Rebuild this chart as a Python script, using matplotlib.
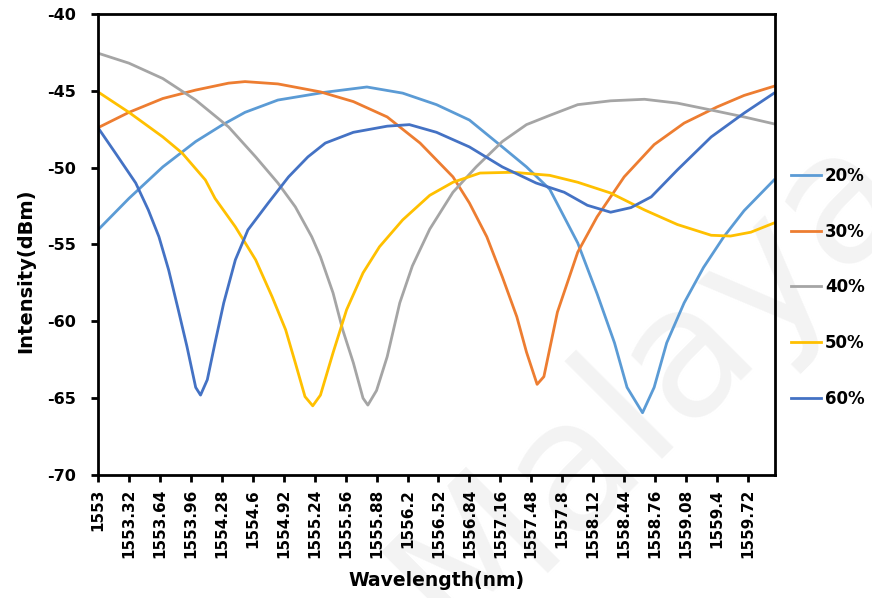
import matplotlib
matplotlib.use("Agg")
import matplotlib.pyplot as plt

# transmission spectra for each coupling ratio
wl_20 = [1553.00, 1553.32, 1553.67, 1554.01, 1554.29, 1554.52, 1554.86, 1555.34, 1555.78,
         1556.15, 1556.50, 1556.84, 1557.18, 1557.43, 1557.67, 1557.96, 1558.16, 1558.34,
         1558.47, 1558.63, 1558.75, 1558.88, 1559.06, 1559.26, 1559.47, 1559.68, 1559.99]
db_20 = [-54.05, -52.0, -49.95, -48.3, -47.2, -46.4, -45.6, -45.1, -44.75,
         -45.15, -45.9, -46.9, -48.65, -49.95, -51.4, -54.9, -58.2, -61.4,
         -64.3, -65.95, -64.3, -61.4, -58.8, -56.5, -54.5, -52.8, -50.8]

wl_30 = [1553.00, 1553.32, 1553.67, 1554.01, 1554.35, 1554.52, 1554.86, 1555.30, 1555.64,
         1555.99, 1556.33, 1556.67, 1556.84, 1557.02, 1557.18, 1557.33, 1557.43, 1557.54,
         1557.61, 1557.75, 1557.96, 1558.16, 1558.44, 1558.75, 1559.06, 1559.40, 1559.68,
         1559.99]
db_30 = [-47.4, -46.4, -45.5, -44.95, -44.5, -44.4, -44.55, -45.07, -45.7,
         -46.7, -48.4, -50.6, -52.3, -54.5, -57.1, -59.7, -62.0, -64.1,
         -63.6, -59.4, -55.5, -53.2, -50.6, -48.5, -47.1, -46.05, -45.3,
         -44.7]

wl_40 = [1553.00, 1553.32, 1553.67, 1554.01, 1554.35, 1554.63, 1554.86, 1555.04, 1555.21,
         1555.30, 1555.43, 1555.53, 1555.64, 1555.74, 1555.79, 1555.88, 1555.99, 1556.12,
         1556.25, 1556.43, 1556.67, 1556.91, 1557.18, 1557.43, 1557.67, 1557.96, 1558.30,
         1558.65, 1558.99, 1559.34, 1559.68, 1559.99]
db_40 = [-42.55, -43.2, -44.2, -45.6, -47.35, -49.3, -51.0, -52.55, -54.5,
         -55.8, -58.15, -60.55, -62.7, -65.0, -65.45, -64.5, -62.3, -58.8,
         -56.4, -54.0, -51.6, -49.95, -48.3, -47.2, -46.6, -45.9, -45.65,
         -45.55, -45.8, -46.25, -46.7, -47.15]

wl_50 = [1553.00, 1553.32, 1553.67, 1553.87, 1554.11, 1554.21, 1554.42, 1554.63, 1554.80,
         1554.94, 1555.04, 1555.14, 1555.22, 1555.30, 1555.43, 1555.57, 1555.74, 1555.91,
         1556.15, 1556.43, 1556.67, 1556.95, 1557.29, 1557.67, 1557.96, 1558.30, 1558.65,
         1558.99, 1559.34, 1559.54, 1559.75, 1559.99]
db_50 = [-45.07, -46.4, -48.0, -49.05, -50.8, -52.0, -53.85, -56.0, -58.4,
         -60.55, -62.7, -64.9, -65.5, -64.8, -62.05, -59.25, -56.85, -55.15,
         -53.4, -51.8, -50.95, -50.35, -50.3, -50.5, -50.95, -51.65, -52.75,
         -53.7, -54.4, -54.45, -54.2, -53.6]

wl_60 = [1553.00, 1553.18, 1553.39, 1553.52, 1553.63, 1553.73, 1553.83, 1553.92, 1554.01,
         1554.06, 1554.13, 1554.21, 1554.30, 1554.42, 1554.55, 1554.76, 1554.97, 1555.17,
         1555.35, 1555.64, 1555.99, 1556.22, 1556.50, 1556.84, 1557.18, 1557.53, 1557.82,
         1558.06, 1558.30, 1558.51, 1558.72, 1558.99, 1559.34, 1559.68, 1559.99]
db_60 = [-47.4, -49.05, -51.0, -52.75, -54.5, -56.65, -59.25, -61.65, -64.3,
         -64.8, -63.8, -61.4, -58.8, -56.0, -54.05, -52.3, -50.6, -49.3,
         -48.4, -47.7, -47.3, -47.2, -47.7, -48.65, -49.95, -51.0, -51.6,
         -52.45, -52.9, -52.6, -51.9, -50.15, -48.0, -46.45, -45.15]

series_labels = ["20%", "30%", "40%", "50%", "60%"]
series_colors = ["#5B9BD5", "#ED7D31", "#A5A5A5", "#FFC000", "#4472C4"]

x_ticks = [1553 + 0.32 * k for k in range(22)]
x_tick_labels = ["1553", "1553.32", "1553.64", "1553.96", "1554.28", "1554.6", "1554.92",
                 "1555.24", "1555.56", "1555.88", "1556.2", "1556.52", "1556.84", "1557.16",
                 "1557.48", "1557.8", "1558.12", "1558.44", "1558.76", "1559.08", "1559.4",
                 "1559.72"]
y_ticks = [-70, -65, -60, -55, -50, -45, -40]

plt.rcParams["font.family"] = "DejaVu Sans"
plt.rcParams["font.weight"] = "bold"

fig = plt.figure(figsize=(8.72, 5.98), dpi=100)

# faint watermark behind the plot
fig.text(0.745, 0.36, "Malaya", rotation=45, fontsize=130, color="#f3f3f3",
         ha="center", va="center", fontweight="normal", zorder=-5)

ax = fig.add_axes([0.1124, 0.2057, 0.7764, 0.7709])
ax.set_facecolor("none")

all_wl = [wl_20, wl_30, wl_40, wl_50, wl_60]
all_db = [db_20, db_30, db_40, db_50, db_60]
for wl, db, lab, col in zip(all_wl, all_db, series_labels, series_colors):
    ax.plot(wl, db, color=col, lw=2.0, label=lab, solid_joinstyle="round")

ax.set_xlim(1553, 1560)
ax.set_ylim(-70, -40)
ax.set_xticks(x_ticks)
ax.set_xticklabels(x_tick_labels, rotation=90, fontsize=11, fontweight="bold")
ax.set_yticks(y_ticks)
ax.set_yticklabels([str(v) for v in y_ticks], fontsize=11.5, fontweight="bold")
ax.tick_params(axis="both", direction="out", length=5, width=2, color="black")
ax.tick_params(axis="x", pad=5)
ax.tick_params(axis="y", pad=11)
for sp in ax.spines.values():
    sp.set_linewidth(2)
    sp.set_color("black")

ax.set_xlabel("Wavelength(nm)", fontsize=13.5, fontweight="bold", labelpad=9)
ax.set_ylabel("Intensity(dBm)", fontsize=14, fontweight="bold")
ax.yaxis.set_label_coords(-0.092, 0.4425)

leg = ax.legend(loc="upper left", bbox_to_anchor=(0.9, 0.732), bbox_transform=fig.transFigure,
                frameon=False, handlelength=1.8, handletextpad=0.2, labelspacing=2.26,
                prop={"size": 12, "weight": "bold"}, borderaxespad=0)

fig.savefig("out.png", dpi=100)
